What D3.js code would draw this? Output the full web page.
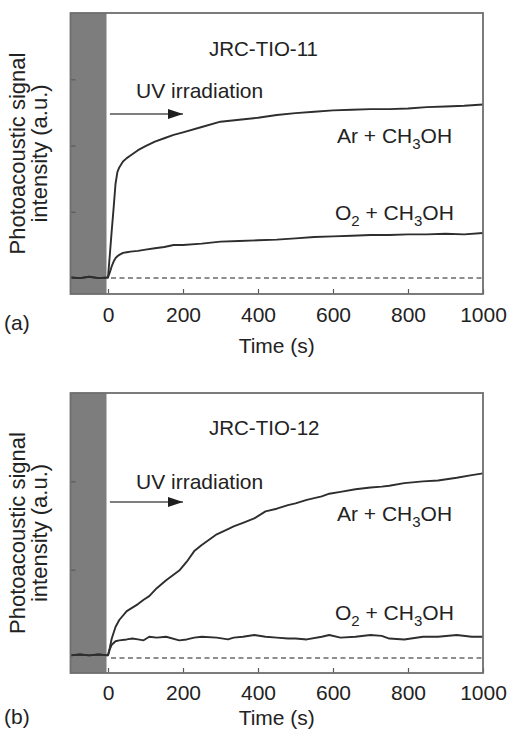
<!DOCTYPE html>
<html>
<head>
<meta charset="utf-8">
<script src="https://cdn.jsdelivr.net/npm/d3@7"></script>
<style>
	body { margin: 0; background: #fff; }
	svg { display: block; font-family: "Liberation Sans", Arial, sans-serif; }
	.tick line { stroke: #5a5a5a; stroke-width: 1.2; }
	.tick text { font-size: 21px; fill: #222; }
</style>
</head>
<body>
<div id="chart"></div>
<script>
// panel (a) JRC-TIO-11
const timeA = [-100, -75, -50, -25, 0, 5, 10, 15, 20, 25, 30, 40, 50, 60, 80, 100, 125, 150, 175, 200,
	250, 300, 350, 400, 450, 500, 550, 600, 650, 700, 750, 800, 850, 900, 950, 1000];
const arA = [0.01, 0.0, 0.02, 0.0, 0.01, 0.36, 0.72, 1.06, 1.42, 1.6, 1.67, 1.76, 1.81, 1.85, 1.93, 1.99, 2.06, 2.11, 2.16, 2.2,
	2.28, 2.36, 2.39, 2.42, 2.46, 2.49, 2.51, 2.53, 2.54, 2.55, 2.55, 2.56, 2.58, 2.59, 2.6, 2.62];
const o2A = [0.01, 0.0, 0.02, 0.0, 0.01, 0.09, 0.18, 0.25, 0.3, 0.33, 0.35, 0.38, 0.39, 0.4, 0.41, 0.43, 0.45, 0.47, 0.5, 0.5,
	0.52, 0.55, 0.56, 0.57, 0.58, 0.6, 0.62, 0.63, 0.64, 0.65, 0.65, 0.66, 0.66, 0.67, 0.66, 0.68];

// panel (b) JRC-TIO-12
const timeB = [-100, -75, -50, -25, 0, 5, 10, 20, 30, 50, 65, 80, 95, 110, 130, 155, 190, 210, 230, 250,
	290, 320, 335, 360, 390, 420, 450, 480, 500, 530, 570, 590, 620, 660, 700, 730, 750, 790, 840, 880, 930, 970, 1000];
const arB = [0.03, 0.04, 0.03, 0.04, 0.03, 0.12, 0.22, 0.35, 0.43, 0.53, 0.57, 0.61, 0.66, 0.7, 0.79, 0.88, 0.99, 1.09, 1.21, 1.28,
	1.4, 1.46, 1.49, 1.53, 1.58, 1.66, 1.69, 1.73, 1.75, 1.79, 1.83, 1.86, 1.88, 1.91, 1.93, 1.94, 1.95, 1.98, 2.0, 2.01, 2.04, 2.07, 2.09];
const o2B = [0.03, 0.04, 0.03, 0.04, 0.03, 0.1, 0.15, 0.19, 0.2, 0.21, 0.22, 0.21, 0.2, 0.24, 0.23, 0.24, 0.2, 0.21, 0.23, 0.24,
	0.23, 0.21, 0.23, 0.24, 0.26, 0.24, 0.23, 0.22, 0.22, 0.21, 0.24, 0.26, 0.23, 0.24, 0.26, 0.25, 0.22, 0.21, 0.24, 0.24, 0.26, 0.24, 0.24];

const xTicks = [0, 200, 400, 600, 800, 1000];
const xDomain = [-100, 1000];
const darkWindow = [-100, 0];

const panels = [
	{
		tag: '(a)', title: 'JRC-TIO-11', time: timeA, ar: arA, o2: o2A,
		yDomain: [-0.24, 4.0], yTicks: [1, 2, 3],
		top: 13, bottom: 294,
		titleY: 43, uvY: 85, arrowY: 101, arLabelY: 130, o2LabelY: 207,
		tickLabelY: 322, tagY: 330, timeY: 353
	},
	{
		tag: '(b)', title: 'JRC-TIO-12', time: timeB, ar: arB, o2: o2B,
		yDomain: [-0.17, 3.0], yTicks: [1, 2],
		top: 393, bottom: 673,
		titleY: 42, uvY: 96, arrowY: 109, arLabelY: 128, o2LabelY: 227,
		tickLabelY: 700, tagY: 724, timeY: 725
	}
];

const width = 509;
const height = 735;
const left = 70.5;
const right = 483;

const svg = d3.select('#chart').append('svg')
	.attr('width', width)
	.attr('height', height);

svg.append('defs').append('marker')
	.attr('id', 'head')
	.attr('viewBox', '0 0 15 10')
	.attr('refX', 15)
	.attr('refY', 5)
	.attr('markerUnits', 'userSpaceOnUse')
	.attr('markerWidth', 15)
	.attr('markerHeight', 10)
	.attr('orient', 'auto')
	.append('path')
	.attr('d', 'M 0 0 L 15 5 L 0 10 Z')
	.attr('fill', '#1e1e1e');

const x = d3.scaleLinear().domain(xDomain).range([left, right]);

// chemical formula labels with subscripts
function formula(sel, parts) {
	parts.forEach(p => {
		if (p.sub) {
			sel.append('tspan').attr('dy', 6).attr('font-size', 15).text(p.t);
		} else {
			sel.append('tspan').attr('dy', p.back ? -6 : 0).text(p.t);
		}
	});
}

panels.forEach(p => {
	const y = d3.scaleLinear().domain(p.yDomain).range([p.bottom, p.top]);
	const g = svg.append('g');

	// dark pre-irradiation window
	g.append('rect')
		.attr('x', x(darkWindow[0]))
		.attr('y', p.top)
		.attr('width', x(darkWindow[1]) - x(darkWindow[0]) - 1.5)
		.attr('height', p.bottom - p.top)
		.attr('fill', '#7d7d7d');

	// baseline
	g.append('line')
		.attr('x1', x(8)).attr('x2', x(1000))
		.attr('y1', y(0)).attr('y2', y(0))
		.attr('stroke', '#6a6a6a')
		.attr('stroke-width', 1.5)
		.attr('stroke-dasharray', '5,3.5');

	const line = d3.line()
		.x(d => x(d[0]))
		.y(d => y(d[1]))
		.curve(d3.curveLinear);

	[p.o2, p.ar].forEach(series => {
		g.append('path')
			.datum(p.time.map((t, i) => [t, series[i]]))
			.attr('d', line)
			.attr('fill', 'none')
			.attr('stroke', '#2e2e2e')
			.attr('stroke-width', 1.9)
			.attr('stroke-linejoin', 'round');
	});

	// axes (inward ticks)
	g.append('g')
		.attr('transform', `translate(0,${p.bottom})`)
		.call(d3.axisBottom(x).tickValues(xTicks).tickFormat(d3.format('d'))
			.tickSizeInner(-5).tickSizeOuter(0).tickPadding(14))
		.call(a => a.select('.domain').remove())
		.call(a => a.selectAll('text').attr('y', p.tickLabelY - p.bottom).attr('dy', 0));

	g.append('g')
		.attr('transform', `translate(${left},0)`)
		.call(d3.axisLeft(y).tickValues(p.yTicks).tickSizeInner(-5).tickSizeOuter(0).tickFormat(''))
		.call(a => a.select('.domain').remove());

	// frame
	g.append('rect')
		.attr('x', left)
		.attr('y', p.top)
		.attr('width', right - left)
		.attr('height', p.bottom - p.top)
		.attr('fill', 'none')
		.attr('stroke', '#6e6e6e')
		.attr('stroke-width', 1.8);

	// annotations
	g.append('text')
		.attr('x', 209)
		.attr('y', p.top + p.titleY)
		.attr('font-size', 20.5)
		.attr('fill', '#222')
		.text(p.title);

	g.append('text')
		.attr('x', 136)
		.attr('y', p.top + p.uvY)
		.attr('font-size', 21)
		.attr('fill', '#222')
		.text('UV irradiation');

	g.append('line')
		.attr('x1', x(5)).attr('x2', x(200))
		.attr('y1', p.top + p.arrowY).attr('y2', p.top + p.arrowY)
		.attr('stroke', '#555')
		.attr('stroke-width', 1.6)
		.attr('marker-end', 'url(#head)');

	const arLabel = g.append('text')
		.attr('x', 337)
		.attr('y', p.top + p.arLabelY)
		.attr('font-size', 21)
		.attr('fill', '#222');
	formula(arLabel, [{t: 'Ar + CH'}, {t: '3', sub: true}, {t: 'OH', back: true}]);

	const o2Label = g.append('text')
		.attr('x', 335)
		.attr('y', p.top + p.o2LabelY)
		.attr('font-size', 21)
		.attr('fill', '#222');
	formula(o2Label, [{t: 'O'}, {t: '2', sub: true}, {t: ' + CH', back: true}, {t: '3', sub: true}, {t: 'OH', back: true}]);

	// axis titles
	const mid = (p.top + p.bottom) / 2;
	const yLabel = g.append('text')
		.attr('transform', `translate(25,${mid}) rotate(-90)`)
		.attr('text-anchor', 'middle')
		.attr('font-size', 22)
		.attr('fill', '#222');
	yLabel.append('tspan').attr('x', 0).attr('y', 0).text('Photoacoustic signal');
	yLabel.append('tspan').attr('x', 0).attr('y', 22).text('intensity (a.u.)');

	g.append('text')
		.attr('x', (left + right) / 2)
		.attr('y', p.timeY)
		.attr('text-anchor', 'middle')
		.attr('font-size', 21)
		.attr('fill', '#222')
		.text('Time (s)');

	g.append('text')
		.attr('x', 4)
		.attr('y', p.tagY)
		.attr('font-size', 21)
		.attr('fill', '#222')
		.text(p.tag);
});
</script>
</body>
</html>
